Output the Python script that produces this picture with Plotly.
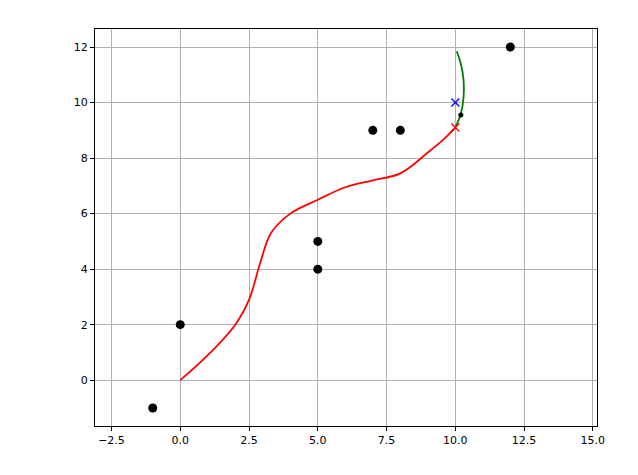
import plotly.graph_objects as go

pts_x = [-1, 0, 5, 5, 7, 8, 12]
pts_y = [-1, 2, 4, 5, 9, 9, 12]
red_x = [0, 1, 2, 2.5, 2.9, 3.3, 4, 5, 6, 7, 8, 9, 9.6, 10]
red_y = [0, 0.9, 2.0, 2.9, 4.2, 5.3, 6.0, 6.5, 6.95, 7.2, 7.45, 8.2, 8.7, 9.1]
green_x = [10, 10.2, 10.3, 10.3, 10.2, 10.05]
green_y = [9.1, 9.6, 10.2, 10.8, 11.4, 11.85]
dot_x = [10.2]; dot_y = [9.55]
blue_x = [10]; blue_y = [10]
redx_x = [10]; redx_y = [9.1]

fig = go.Figure()
fig.add_trace(go.Scatter(x=red_x, y=red_y, mode='lines', line=dict(color='red', width=1.8, shape='spline')))
fig.add_trace(go.Scatter(x=green_x, y=green_y, mode='lines', line=dict(color='green', width=1.8, shape='spline')))
fig.add_trace(go.Scatter(x=pts_x, y=pts_y, mode='markers', marker=dict(color='black', size=9)))
fig.add_trace(go.Scatter(x=dot_x, y=dot_y, mode='markers', marker=dict(color='black', size=5)))
fig.add_trace(go.Scatter(x=blue_x, y=blue_y, mode='markers', marker=dict(color='blue', size=8, symbol='x-thin', line=dict(color='blue', width=1.3))))
fig.add_trace(go.Scatter(x=redx_x, y=redx_y, mode='markers', marker=dict(color='red', size=8, symbol='x-thin', line=dict(color='red', width=1.3))))

ax = dict(showgrid=True, gridcolor='#b0b0b0', gridwidth=1, zeroline=False, showline=True, linecolor='black',
          mirror=True, ticks='outside', ticklen=4, tickcolor='black', tickfont=dict(family='DejaVu Sans', size=11, color='black'))
fig.update_layout(width=638, height=475, showlegend=False, plot_bgcolor='white', paper_bgcolor='white',
                  margin=dict(l=87, r=49, t=21, b=57),
                  xaxis=dict(range=[-3.1, 15.15], dtick=2.5, tickformat='.1f', **ax),
                  yaxis=dict(range=[-1.65, 12.65], dtick=2, **ax))
fig.write_html("out.html")
